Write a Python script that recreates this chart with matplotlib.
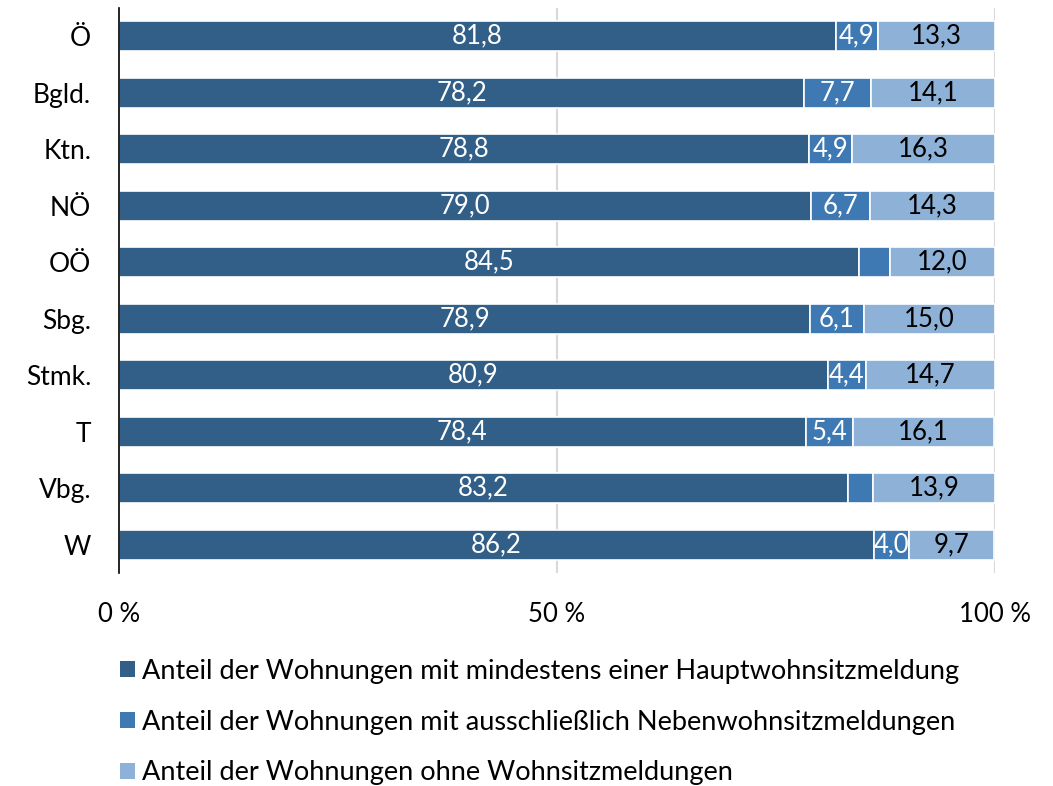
import matplotlib.pyplot as plt
import numpy as np
from matplotlib.patches import Patch

plt.rcParams['font.family'] = ['Lato', 'DejaVu Sans']

categories = ["Ö", "Bgld.", "Ktn.", "NÖ", "OÖ", "Sbg.", "Stmk.", "T", "Vbg.", "W"]
haupt = [81.8, 78.2, 78.8, 79.0, 84.5, 78.9, 80.9, 78.4, 83.2, 86.2]
neben = [4.9, 7.7, 4.9, 6.7, 3.5, 6.1, 4.4, 5.4, 2.9, 4.0]
ohne = [13.3, 14.1, 16.3, 14.3, 12.0, 15.0, 14.7, 16.1, 13.9, 9.7]
show_neben_label = [True, True, True, True, False, True, True, True, False, True]
series_names = [
    "Anteil der Wohnungen mit mindestens einer Hauptwohnsitzmeldung",
    "Anteil der Wohnungen mit ausschließlich Nebenwohnsitzmeldungen",
    "Anteil der Wohnungen ohne Wohnsitzmeldungen",
]
colors = ["#325F87", "#3E79B3", "#8DB1D7"]
xticks = [0, 50, 100]
xticklabels = ["0 %", "50 %", "100 %"]

fig = plt.figure(figsize=(10.53, 7.86), dpi=100)
ax = fig.add_axes([119/1053, 1-573/786, (995-119)/1053, (573-8)/786])

y = np.arange(len(categories))
h = 0.53
left = np.zeros(len(categories))
for vals, col, txtcol, idx in [(haupt, colors[0], "white", 0), (neben, colors[1], "white", 1), (ohne, colors[2], "black", 2)]:
    vals = np.array(vals)
    ax.barh(y, vals, left=left, height=h, color=col, edgecolor="white", linewidth=1.2, zorder=2)
    for i, v in enumerate(vals):
        if idx == 1 and not show_neben_label[i]:
            continue
        ax.text(left[i] + v/2, y[i], f"{v:.1f}".replace(".", ","), ha="center", va="center",
                color=txtcol, fontsize=18.5, zorder=3)
    left += vals

ax.set_ylim(len(categories) - 0.5, -0.5)
ax.set_xlim(0, 100)
ax.set_yticks(y)
ax.set_yticklabels(categories, fontsize=19)
ax.set_xticks(xticks)
ax.set_xticklabels(xticklabels, fontsize=18.5)
ax.tick_params(axis="y", length=0, pad=20)
ax.tick_params(axis="x", length=0, pad=21)
for s in ["top", "right", "bottom"]:
    ax.spines[s].set_visible(False)
ax.spines["left"].set_color("black")
ax.spines["left"].set_linewidth(1.2)
ax.spines["left"].set_zorder(4)
for xv in [50, 100]:
    ax.axvline(xv, color="#D9D9D9", linewidth=1.5, zorder=1)

handles = [Patch(facecolor=c, edgecolor="none") for c in colors]
fig.legend(handles, series_names, loc="upper left", bbox_to_anchor=(109/1053, 1-648/786),
           frameon=False, fontsize=19.5, handlelength=0.55, handleheight=0.55, handletextpad=0.25,
           labelspacing=0.95, borderaxespad=0)

fig.savefig("out.png", dpi=100)
